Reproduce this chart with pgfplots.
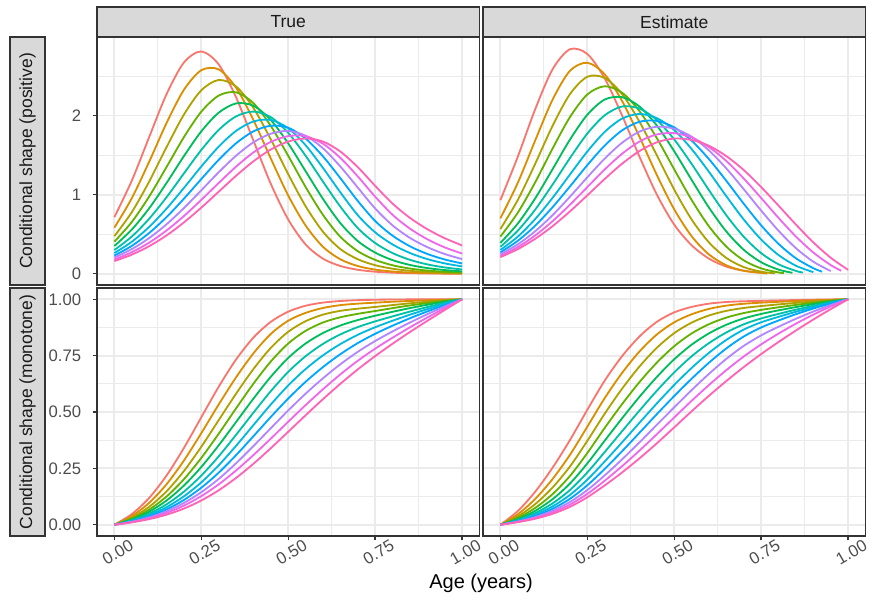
\documentclass[border=0pt]{standalone}
\usepackage{fontspec}
\setmainfont{Liberation Sans}
\usepackage{pgfplots}
\usepackage{pgfplotstable}
\pgfplotsset{compat=1.18}
\usetikzlibrary{calc}

\definecolor{h0}{HTML}{F8766D}
\definecolor{h1}{HTML}{DB8E00}
\definecolor{h2}{HTML}{AEA200}
\definecolor{h3}{HTML}{64B200}
\definecolor{h4}{HTML}{00BD5C}
\definecolor{h5}{HTML}{00C1A7}
\definecolor{h6}{HTML}{00BADE}
\definecolor{h7}{HTML}{00A6FF}
\definecolor{h8}{HTML}{B385FF}
\definecolor{h9}{HTML}{EF67EB}
\definecolor{h10}{HTML}{FF63B6}
\definecolor{grid92}{HTML}{EBEBEB}
\definecolor{grey20}{HTML}{333333}
\definecolor{grey30}{HTML}{4D4D4D}
\definecolor{grey85}{HTML}{D9D9D9}
\definecolor{grey10}{HTML}{1A1A1A}

% true positive shape
\pgfplotstableread{
x c0 c1 c2 c3 c4 c5 c6 c7 c8 c9 c10
0.00 0.716 0.583 0.475 0.406 0.351 0.300 0.261 0.230 0.205 0.180 0.160
0.05 1.176 0.954 0.778 0.654 0.558 0.470 0.404 0.352 0.311 0.272 0.241
0.10 1.727 1.415 1.165 0.976 0.827 0.695 0.592 0.515 0.451 0.393 0.348
0.15 2.270 1.905 1.600 1.349 1.147 0.967 0.823 0.716 0.625 0.547 0.484
0.20 2.670 2.325 2.012 1.727 1.487 1.268 1.085 0.949 0.830 0.729 0.649
0.25 2.810 2.573 2.319 2.049 1.800 1.565 1.356 1.197 1.055 0.934 0.836
0.30 2.646 2.583 2.449 2.252 2.036 1.818 1.607 1.440 1.283 1.147 1.037
0.35 2.230 2.352 2.367 2.294 2.153 1.989 1.806 1.649 1.492 1.354 1.238
0.40 1.682 1.942 2.095 2.156 2.123 2.050 1.925 1.800 1.662 1.534 1.422
0.45 1.135 1.455 1.697 1.867 1.942 1.979 1.944 1.871 1.770 1.667 1.571
0.50 0.685 0.988 1.258 1.490 1.647 1.780 1.839 1.846 1.805 1.740 1.671
0.55 0.370 0.609 0.853 1.096 1.296 1.491 1.624 1.708 1.744 1.739 1.710
0.60 0.190 0.340 0.530 0.743 0.945 1.164 1.337 1.483 1.585 1.643 1.671
0.65 0.0976 0.182 0.311 0.466 0.639 0.847 1.028 1.207 1.355 1.464 1.544
0.70 0.0502 0.0975 0.183 0.285 0.413 0.577 0.740 0.920 1.089 1.230 1.347
0.75 0.0257 0.0522 0.1076 0.175 0.267 0.388 0.523 0.667 0.825 0.974 1.111
0.80 0.0132 0.0279 0.0632 0.107 0.172 0.261 0.370 0.481 0.611 0.745 0.886
0.85 0.0068 0.0150 0.0371 0.0656 0.111 0.176 0.262 0.347 0.453 0.570 0.706
0.90 0.0035 0.0080 0.0218 0.0402 0.0717 0.118 0.185 0.250 0.336 0.436 0.563
0.95 0.0018 0.0043 0.0128 0.0246 0.0463 0.0797 0.131 0.180 0.249 0.333 0.449
1.00 0.0009 0.0023 0.0075 0.0151 0.0299 0.0536 0.0927 0.130 0.185 0.255 0.358
}\tabTL

% true monotone shape
\pgfplotstableread{
x c0 c1 c2 c3 c4 c5 c6 c7 c8 c9 c10
0.00 0 0 0 0 0 0 0 0 0 0 0
0.05 0.0469 0.0382 0.0312 0.0265 0.0229 0.0194 0.0168 0.0148 0.0131 0.0115 0.0105
0.10 0.1190 0.0971 0.0795 0.0672 0.0578 0.0487 0.0420 0.0366 0.0324 0.0284 0.0249
0.15 0.2182 0.1796 0.1483 0.1252 0.1074 0.0905 0.0778 0.0678 0.0597 0.0523 0.0446
0.20 0.3407 0.2847 0.2381 0.2020 0.1737 0.1468 0.1261 0.1099 0.0965 0.0847 0.0717
0.25 0.4767 0.4064 0.3459 0.2963 0.2563 0.2181 0.1879 0.1643 0.1444 0.1270 0.1076
0.30 0.6121 0.5334 0.4640 0.4036 0.3522 0.3034 0.2635 0.2308 0.2032 0.1792 0.1529
0.35 0.7331 0.6539 0.5814 0.5162 0.4557 0.3989 0.3502 0.3088 0.2728 0.2408 0.2077
0.40 0.8302 0.7605 0.6908 0.6258 0.5595 0.4974 0.4423 0.3928 0.3491 0.3092 0.2706
0.45 0.9001 0.8465 0.7848 0.7244 0.6566 0.5928 0.5335 0.4783 0.4284 0.3822 0.3398
0.50 0.9452 0.9050 0.8560 0.8040 0.7400 0.6780 0.6180 0.5600 0.5070 0.4570 0.4125
0.55 0.9714 0.9398 0.9029 0.8601 0.8039 0.7476 0.6906 0.6341 0.5814 0.5307 0.4857
0.60 0.9853 0.9615 0.9320 0.8971 0.8505 0.8022 0.7514 0.6995 0.6497 0.6010 0.5572
0.65 0.9924 0.9741 0.9488 0.9203 0.8837 0.8444 0.8014 0.7567 0.7119 0.6670 0.6254
0.70 0.9961 0.9806 0.9583 0.9355 0.9079 0.8768 0.8426 0.8057 0.7670 0.7273 0.6891
0.75 0.9980 0.9850 0.9660 0.9480 0.9270 0.9020 0.8760 0.8470 0.8150 0.7810 0.7480
0.80 0.9990 0.9892 0.9743 0.9607 0.9445 0.9242 0.9049 0.8829 0.8574 0.8296 0.8029
0.85 0.9995 0.9925 0.9822 0.9726 0.9609 0.9455 0.9316 0.9159 0.8969 0.8756 0.8548
0.90 0.9998 0.9955 0.9892 0.9832 0.9757 0.9655 0.9564 0.9461 0.9337 0.9192 0.9044
0.95 0.9999 0.9978 0.9953 0.9925 0.9889 0.9838 0.9791 0.9741 0.9680 0.9606 0.9526
1.00 1 1 1 1 1 1 1 1 1 1 1
}\tabBL

% estimated monotone shape
\pgfplotstableread{
x c0 c1 c2 c3 c4 c5 c6 c7 c8 c9 c10
0.00 0 0 0 0 0 0 0 0 0 0 0
0.05 0.0606 0.0463 0.0369 0.0300 0.0247 0.0208 0.0180 0.0159 0.0141 0.0127 0.0115
0.10 0.1463 0.1143 0.0915 0.0745 0.0615 0.0514 0.0441 0.0384 0.0338 0.0300 0.0267
0.15 0.2527 0.2027 0.1650 0.1358 0.1133 0.0947 0.0812 0.0705 0.0618 0.0548 0.0484
0.20 0.3754 0.3100 0.2582 0.2162 0.1825 0.1539 0.1322 0.1150 0.1009 0.0895 0.0793
0.25 0.5100 0.4350 0.3720 0.3180 0.2720 0.2320 0.2000 0.1750 0.1540 0.1370 0.1220
0.30 0.6391 0.5617 0.4925 0.4294 0.3728 0.3225 0.2805 0.2476 0.2189 0.1953 0.1744
0.35 0.7477 0.6736 0.6035 0.5352 0.4722 0.4149 0.3655 0.3261 0.2901 0.2598 0.2320
0.40 0.8350 0.7684 0.7019 0.6327 0.5674 0.5064 0.4524 0.4080 0.3656 0.3290 0.2945
0.45 0.9001 0.8440 0.7850 0.7192 0.6556 0.5944 0.5381 0.4906 0.4433 0.4015 0.3613
0.50 0.9420 0.8980 0.8500 0.7920 0.7340 0.6760 0.6200 0.5710 0.5210 0.4760 0.4320
0.55 0.9662 0.9336 0.8965 0.8484 0.7987 0.7471 0.6955 0.6477 0.5971 0.5497 0.5034
0.60 0.9806 0.9574 0.9282 0.8897 0.8490 0.8059 0.7627 0.7189 0.6695 0.6200 0.5722
0.65 0.9880 0.9719 0.9488 0.9189 0.8872 0.8530 0.8201 0.7823 0.7359 0.6860 0.6378
0.70 0.9912 0.9802 0.9615 0.9390 0.9151 0.8891 0.8657 0.8351 0.7935 0.7463 0.6996
0.75 0.9930 0.9850 0.9700 0.9530 0.9350 0.9150 0.8980 0.8750 0.8400 0.8000 0.7570
0.80 0.9949 0.9888 0.9773 0.9645 0.9509 0.9353 0.9222 0.9060 0.8784 0.8480 0.8107
0.85 0.9967 0.9922 0.9840 0.9751 0.9654 0.9540 0.9447 0.9340 0.9136 0.8920 0.8617
0.90 0.9981 0.9952 0.9902 0.9845 0.9786 0.9712 0.9653 0.9590 0.9456 0.9320 0.9103
0.95 0.9993 0.9978 0.9955 0.9929 0.9901 0.9865 0.9838 0.9810 0.9744 0.9680 0.9563
1.00 1 1 1 1 1 1 1 1 1 1 1
}\tabBR

\pgfplotsset{
  panel/.style={
    scale only axis, width=229.5pt, height=148.8pt,
    xmin=-0.05, xmax=1.05,
    xtick={0,0.25,0.5,0.75,1}, minor xtick={0.125,0.375,0.625,0.875},
    grid=both,
    major grid style={draw=grid92, line width=1.1pt},
    minor grid style={draw=grid92, line width=0.55pt},
    axis line style={draw=grey20, line width=0.9pt},
    tick align=outside, major tick length=2.6pt, minor tick length=0pt,
    major tick style={draw=grey20, line width=0.9pt},
    tick label style={font=\fontsize{10}{12}\selectfont, text=grey30},
    xticklabel style={rotate=30, anchor=north, xshift=-1.8pt},
    yticklabel style={xshift=-3.4pt},
    xtick pos=bottom, ytick pos=left,
  },
  cur/.style={smooth, line width=1.1pt, no markers},
}

\begin{document}
\begin{tikzpicture}
\path[use as bounding box] (-58.2pt,22.2pt) rectangle (463.2pt,-337.2pt);

\begin{axis}[panel, name=tl, at={(0pt,0pt)}, anchor=north west,
  ymin=-0.1425, ymax=2.9925, ytick={0,1,2}, minor ytick={0.5,1.5,2.5},
  yticklabels={0,1,2}, xmajorticks=false]
  \pgfplotsinvokeforeach{0,...,10}{\addplot[cur, h#1] table[x=x, y=c#1]{\tabTL};}
\end{axis}

\begin{axis}[panel, name=tr, at={(231.6pt,0pt)}, anchor=north west,
  ymin=-0.1425, ymax=2.9925, ytick={0,1,2}, minor ytick={0.5,1.5,2.5},
  xmajorticks=false, ymajorticks=false]
  \addplot[cur, h0] coordinates {(0,0.93)(0.05,1.479)(0.1,2.079)(0.15,2.584)(0.2,2.838)(0.25,2.778)(0.3,2.470)(0.35,2.0)(0.4,1.48)(0.45,1.0)(0.5,0.62)(0.55,0.36)(0.6,0.19)(0.65,0.09)(0.7,0.038)(0.758,0.01)};
  \addplot[cur, h1] coordinates {(0,0.70)(0.05,1.149)(0.1,1.684)(0.15,2.200)(0.2,2.565)(0.25,2.667)(0.3,2.521)(0.35,2.184)(0.4,1.730)(0.45,1.247)(0.5,0.813)(0.55,0.474)(0.6,0.243)(0.65,0.1067)(0.7,0.0373)(0.768,0.0033)};
  \addplot[cur, h2] coordinates {(0,0.565)(0.05,0.932)(0.1,1.389)(0.15,1.869)(0.2,2.270)(0.25,2.490)(0.3,2.475)(0.35,2.271)(0.4,1.922)(0.45,1.496)(0.5,1.063)(0.55,0.685)(0.6,0.395)(0.65,0.199)(0.7,0.0838)(0.75,0.0259)(0.79,0.0052)};
  \addplot[cur, h3] coordinates {(0,0.47)(0.05,0.771)(0.1,1.155)(0.15,1.582)(0.2,1.980)(0.25,2.266)(0.3,2.370)(0.35,2.288)(0.4,2.055)(0.45,1.713)(0.5,1.319)(0.55,0.932)(0.6,0.598)(0.65,0.342)(0.7,0.169)(0.75,0.0675)(0.8,0.0163)(0.815,0.0079)};
  \addplot[cur, h4] coordinates {(0,0.39)(0.05,0.634)(0.1,0.952)(0.15,1.321)(0.2,1.695)(0.25,2.010)(0.3,2.202)(0.35,2.232)(0.4,2.114)(0.45,1.873)(0.5,1.548)(0.55,1.186)(0.6,0.835)(0.65,0.533)(0.7,0.302)(0.75,0.145)(0.8,0.0517)(0.84,0.0117)};
  \addplot[cur, h5] coordinates {(0,0.34)(0.05,0.544)(0.1,0.810)(0.15,1.127)(0.2,1.462)(0.25,1.772)(0.3,2.003)(0.35,2.114)(0.4,2.088)(0.45,1.943)(0.5,1.697)(0.55,1.388)(0.6,1.055)(0.65,0.738)(0.7,0.467)(0.75,0.260)(0.8,0.119)(0.85,0.0356)(0.87,0.0149)};
  \addplot[cur, h6] coordinates {(0,0.30)(0.05,0.469)(0.1,0.691)(0.15,0.959)(0.2,1.254)(0.25,1.545)(0.3,1.793)(0.35,1.961)(0.4,2.020)(0.45,1.967)(0.5,1.815)(0.55,1.576)(0.6,1.287)(0.65,0.979)(0.7,0.685)(0.75,0.432)(0.8,0.236)(0.85,0.101)(0.9,0.0201)};
  \addplot[cur, h7] coordinates {(0,0.27)(0.05,0.416)(0.1,0.607)(0.15,0.841)(0.2,1.103)(0.25,1.373)(0.3,1.620)(0.35,1.812)(0.4,1.921)(0.45,1.932)(0.5,1.850)(0.55,1.682)(0.6,1.448)(0.65,1.173)(0.7,0.884)(0.75,0.611)(0.8,0.377)(0.85,0.195)(0.9,0.0697)(0.925,0.0265)};
  \addplot[cur, h8] coordinates {(0,0.245)(0.05,0.371)(0.1,0.537)(0.15,0.740)(0.2,0.973)(0.25,1.219)(0.3,1.455)(0.35,1.656)(0.4,1.797)(0.45,1.858)(0.5,1.834)(0.55,1.733)(0.6,1.558)(0.65,1.330)(0.7,1.068)(0.75,0.798)(0.8,0.543)(0.85,0.323)(0.9,0.152)(0.95,0.0337)};
  \addplot[cur, h9] coordinates {(0,0.225)(0.05,0.337)(0.1,0.484)(0.15,0.664)(0.2,0.872)(0.25,1.095)(0.3,1.318)(0.35,1.517)(0.4,1.671)(0.45,1.761)(0.5,1.777)(0.55,1.722)(0.6,1.601)(0.65,1.424)(0.7,1.203)(0.75,0.957)(0.8,0.705)(0.85,0.470)(0.9,0.268)(0.95,0.110)(0.98,0.0384)};
  \addplot[cur, h10] coordinates {(0,0.21)(0.05,0.311)(0.1,0.441)(0.15,0.601)(0.2,0.788)(0.25,0.991)(0.3,1.198)(0.35,1.391)(0.4,1.551)(0.45,1.661)(0.5,1.709)(0.55,1.691)(0.6,1.617)(0.65,1.486)(0.7,1.310)(0.75,1.095)(0.8,0.860)(0.85,0.621)(0.9,0.396)(0.95,0.202)(1.0,0.0488)};
\end{axis}

\begin{axis}[panel, name=bl, at={(0pt,-150.6pt)}, anchor=north west,
  ymin=-0.05, ymax=1.05, ytick={0,0.25,0.5,0.75,1}, minor ytick={0.125,0.375,0.625,0.875},
  yticklabels={0.00,0.25,0.50,0.75,1.00}, xticklabels={0.00,0.25,0.50,0.75,1.00}]
  \pgfplotsinvokeforeach{0,...,10}{\addplot[cur, h#1] table[x=x, y=c#1]{\tabBL};}
\end{axis}

\begin{axis}[panel, name=br, at={(231.6pt,-150.6pt)}, anchor=north west,
  ymin=-0.05, ymax=1.05, ytick={0,0.25,0.5,0.75,1}, minor ytick={0.125,0.375,0.625,0.875},
  ymajorticks=false, xticklabels={0.00,0.25,0.50,0.75,1.00}]
  \pgfplotsinvokeforeach{0,...,10}{\addplot[cur, h#1] table[x=x, y=c#1]{\tabBR};}
\end{axis}

% facet strips
\foreach \ax/\lab in {tl/True, tr/Estimate}{
  \draw[fill=grey85, draw=grey20, line width=0.9pt] (\ax.north west) rectangle ($(\ax.north east)+(0,18pt)$);
  \node[font=\fontsize{10.5}{12}\selectfont, text=grey10] at ($(\ax.north)+(0,9pt)$) {\lab};
}
\foreach \ax/\lab in {tl/Conditional shape (positive), bl/Conditional shape (monotone)}{
  \draw[fill=grey85, draw=grey20, line width=0.9pt] ($(\ax.north west)+(-52.2pt,0)$) rectangle ($(\ax.south west)+(-31.2pt,0)$);
  \node[rotate=90, font=\fontsize{10.5}{12}\selectfont, text=grey10] at ($(\ax.west)+(-41.7pt,0)$) {\lab};
}
\node[font=\fontsize{12}{14}\selectfont] at (230.4pt,-327.6pt) {Age (years)};
\end{tikzpicture}
\end{document}
